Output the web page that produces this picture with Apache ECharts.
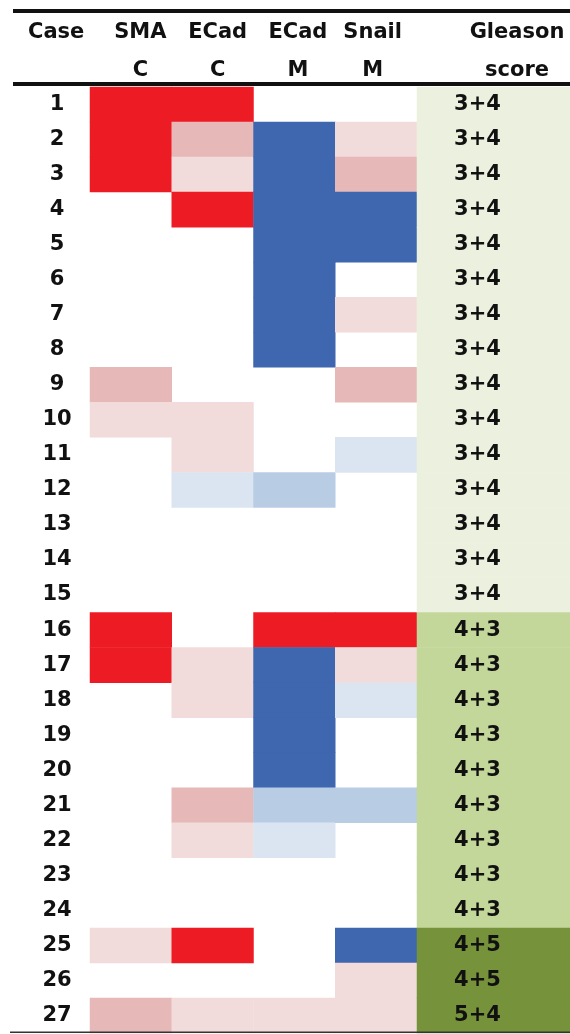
<!DOCTYPE html>
<html>
<head>
<meta charset="utf-8">
<script src="https://cdn.jsdelivr.net/npm/echarts@6/dist/echarts.min.js"></script>
<style>
  html, body { margin: 0; padding: 0; background: #fff; }
  #chart { width: 570px; height: 1034px; }
</style>
</head>
<body>
<div id="chart"></div>
<script>
  // 行：病例编号
  const cases = ['1','2','3','4','5','6','7','8','9','10','11','12','13','14','15','16','17','18','19','20','21','22','23','24','25','26','27']
  // 列标题
  const markers = ['SMA\nC', 'ECad\nC', 'ECad\nM', 'Snail\nM']
  // 染色强度：2 强阳, 1 中, 0.5 弱, 0 无, 负值为降低
  const smaC   = [2,2,2,0,0,0,0,0,1,0.5,0,0,0,0,0,2,2,0,0,0,0,0,0,0,0.5,0,1]
  const ecadC  = [2,1,0.5,2,0,0,0,0,0,0.5,0.5,-0.5,0,0,0,0,0.5,0.5,0,0,1,0.5,0,0,2,0,0.5]
  const ecadM  = [0,-2,-2,-2,-2,-2,-2,-2,0,0,0,-1,0,0,0,2,-2,-2,-2,-2,-1,-0.5,0,0,0,0,0.5]
  const snailM = [0,0.5,1,-2,-2,0,0.5,0,1,0,-0.5,0,0,0,0,2,0.5,-0.5,0,0,-1,0,0,0,-2,0.5,0.5]
  const gleason = ['3+4','3+4','3+4','3+4','3+4','3+4','3+4','3+4','3+4','3+4','3+4','3+4','3+4','3+4','3+4',
                   '4+3','4+3','4+3','4+3','4+3','4+3','4+3','4+3','4+3','4+5','4+5','5+4']

  const columns = [smaC, ecadC, ecadM, snailM]
  const heatData = []
  columns.forEach((col, x) => {
    col.forEach((v, y) => heatData.push([x, y, v]))
  })

  // Gleason 分组颜色
  const gleasonColor = { '3+4': '#EBF1DE', '4+3': '#C4D79B', '4+5': '#76933C', '5+4': '#76933C' }
  const gleasonData = gleason.map((g, y) => ({
    value: [0, y, 1],
    itemStyle: { color: gleasonColor[g] }
  }))

  const font = 'DejaVu Sans'
  const headStyle = { color: '#111', fontFamily: font, fontWeight: 'bold', fontSize: 21, lineHeight: 38 }
  // 表头文字在原表中略有偏移
  const headRich = {
    c0: { ...headStyle, padding: [0, 0, 0, 19] },
    c1: { ...headStyle, padding: [0, 0, 0, 10] },
    c2: { ...headStyle, padding: [0, 0, 0, 7] },
    c3: { ...headStyle, padding: [0, 7, 0, 0] }
  }

  const chart = echarts.init(document.getElementById('chart'))

  const option = {
    animation: false,
    backgroundColor: '#fff',
    grid: [
      { left: 90, width: 327, top: 87, height: 946 },
      { left: 417, right: 0, top: 87, height: 946 }
    ],
    xAxis: [
      {
        type: 'category', gridIndex: 0, position: 'top', data: markers,
        axisLine: { show: false }, axisTick: { show: false }, splitLine: { show: false },
        axisLabel: {
          ...headStyle, margin: -3, interval: 0, rich: headRich,
          formatter: (v, i) => v.split('\n').map(s => `{c${i}|${s}}`).join('\n')
        }
      },
      {
        type: 'category', gridIndex: 1, position: 'top', data: ['Gleason\nscore'],
        axisLine: { show: false }, axisTick: { show: false }, splitLine: { show: false },
        axisLabel: { ...headStyle, margin: -3, padding: [0, 0, 0, 47] }
      }
    ],
    yAxis: [
      {
        type: 'category', gridIndex: 0, data: cases, inverse: true,
        axisLine: { show: false }, axisTick: { show: false }, splitLine: { show: false },
        axisLabel: { color: '#111', fontFamily: font, fontWeight: 'bold', fontSize: 21, align: 'center', margin: 33, interval: 0 }
      },
      {
        type: 'category', gridIndex: 1, data: cases, inverse: true, show: false
      }
    ],
    visualMap: {
      type: 'piecewise', show: false, seriesIndex: 0, dimension: 2,
      pieces: [
        { value: 2, color: '#ED1C24' },
        { value: 1, color: '#E6B8B7' },
        { value: 0.5, color: '#F2DCDB' },
        { value: 0, color: 'rgba(255,255,255,0)' },
        { value: -0.5, color: '#DBE5F1' },
        { value: -1, color: '#B8CCE4' },
        { value: -2, color: '#3F67B0' }
      ]
    },
    series: [
      {
        type: 'heatmap', xAxisIndex: 0, yAxisIndex: 0, data: heatData,
        emphasis: { disabled: true }
      },
      {
        type: 'heatmap', xAxisIndex: 1, yAxisIndex: 1, data: gleasonData,
        emphasis: { disabled: true },
        label: {
          show: true, offset: [-16, 0], color: '#111', fontFamily: font, fontWeight: 'bold', fontSize: 21,
          formatter: p => gleason[p.dataIndex]
        }
      }
    ],
    graphic: [
      { type: 'text', left: 28, top: 22, style: { text: 'Case', fill: '#111', font: 'bold 21px "DejaVu Sans"' } },
      { type: 'rect', shape: { x: 13, y: 9, width: 557, height: 4 }, style: { fill: '#111' } },
      { type: 'rect', shape: { x: 13, y: 82, width: 557, height: 4 }, style: { fill: '#111' } },
      { type: 'rect', shape: { x: 10, y: 1031.5, width: 560, height: 1.5 }, style: { fill: '#333' }, z: 10 }
    ]
  }

  chart.setOption(option)
</script>
</body>
</html>
